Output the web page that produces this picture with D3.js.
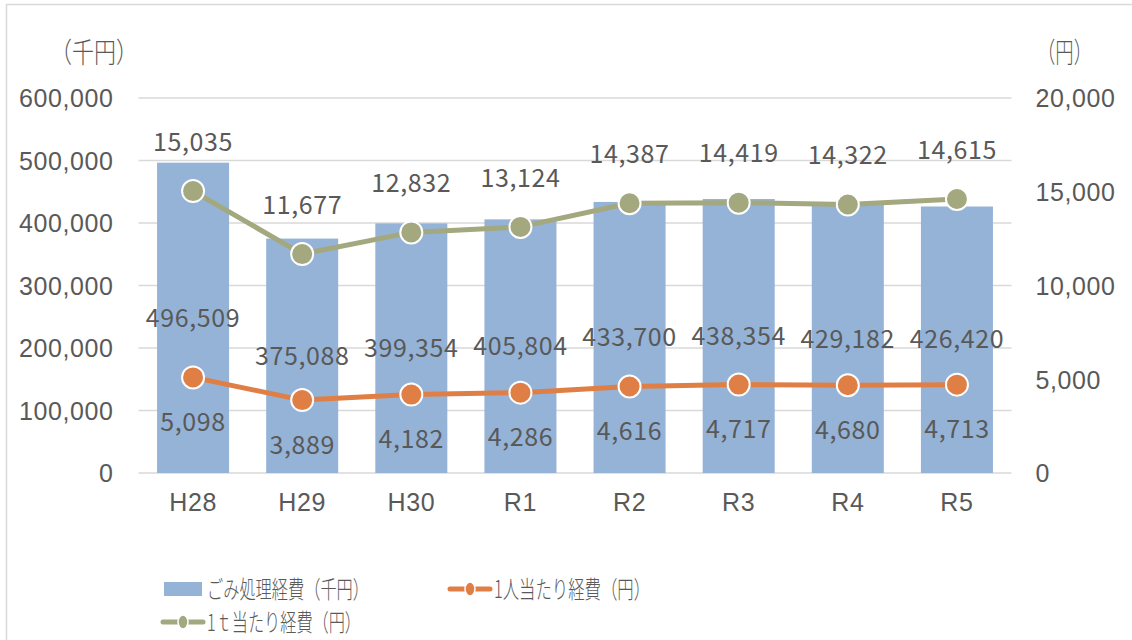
<!DOCTYPE html>
<html><head><meta charset="utf-8">
<script src="https://cdn.jsdelivr.net/npm/d3@7"></script>
<style>body{margin:0;background:#fff;}svg{display:block;font-family:"Noto Sans CJK JP","Noto Sans",sans-serif;}</style>
</head><body>
<svg id="c" width="1132" height="640"></svg>
<script>
const categories = ["H28","H29","H30","R1","R2","R3","R4","R5"];
const costTotal = [496509,375088,399354,405804,433700,438354,429182,426420];
const costPerPerson = [5098,3889,4182,4286,4616,4717,4680,4713];
const costPerTon = [15035,11677,12832,13124,14387,14419,14322,14615];
const leftTicks = [0,100000,200000,300000,400000,500000,600000];
const rightTicks = [0,5000,10000,15000,20000];
const seriesNames = ["ごみ処理経費（千円）","1人当たり経費（円）","1ｔ当たり経費（円）"];

const svg = d3.select("#c");
const txt = "#595959";
const fs = 25;
const ls = "0.6px";
const m = {l:138.5, r:1011.5, t:98, b:473};

svg.append("rect").attr("x",6.5).attr("y",4.5).attr("width",1140).attr("height",660)
  .attr("fill","none").attr("stroke","#d9d9d9").attr("stroke-width",1.5);

const x = d3.scaleBand().domain(categories).range([m.l,m.r]).paddingInner(0.34).paddingOuter(0.17);
const xc = d => x(d)+x.bandwidth()/2;
const yL = d3.scaleLinear().domain([0,600000]).range([m.b,m.t]);
const yR = d3.scaleLinear().domain([0,20000]).range([m.b,m.t]);
const fmt = d3.format(",");

// gridlines
svg.append("g").selectAll("line").data(leftTicks).join("line")
  .attr("x1",m.l).attr("x2",m.r).attr("y1",d=>yL(d)).attr("y2",d=>yL(d))
  .attr("stroke","#d9d9d9").attr("stroke-width",1.5);

function styleAxis(g){
  g.select(".domain").remove();
  g.selectAll("text").attr("fill",txt).style("font-size",fs+"px").style("font-family","inherit").style("letter-spacing",ls);
}
// left axis
const gl = svg.append("g").attr("transform",`translate(${m.l-25},0)`)
  .call(d3.axisLeft(yL).tickValues(leftTicks).tickFormat(fmt).tickSize(0).tickPadding(0));
styleAxis(gl); gl.selectAll("text").attr("dy","0.35em");

// right axis
const gr = svg.append("g").attr("transform",`translate(${m.r+24},0)`)
  .call(d3.axisRight(yR).tickValues(rightTicks).tickFormat(fmt).tickSize(0).tickPadding(0));
styleAxis(gr); gr.selectAll("text").attr("dy","0.35em");

// x axis
const gx = svg.append("g").attr("transform",`translate(0,${m.b})`)
  .call(d3.axisBottom(x).tickSize(0).tickPadding(20));
styleAxis(gx);

// axis units
svg.append("text").attr("x",50).attr("y",63).attr("fill",txt).style("font-size","28px").style("font-weight",300)
  .attr("textLength",88).attr("lengthAdjust","spacingAndGlyphs").text("（千円）");
svg.append("text").attr("x",1037).attr("y",63).attr("fill",txt).style("font-size","28px").style("font-weight",300)
  .attr("textLength",55).attr("lengthAdjust","spacingAndGlyphs").text("（円）");

// bars
svg.append("g").selectAll("rect").data(costTotal).join("rect")
  .attr("x",(d,i)=>x(categories[i])).attr("width",x.bandwidth())
  .attr("y",d=>yL(d)).attr("height",d=>m.b-yL(d)).attr("fill","#95B3D7");

const orange = "#E07F45", green = "#A3A87E";
function drawLine(vals,color){
  const line = d3.line().x((d,i)=>xc(categories[i])).y(d=>yR(d));
  svg.append("path").datum(vals).attr("d",line).attr("fill","none").attr("stroke",color)
    .attr("stroke-width",5).attr("stroke-linejoin","round");
  svg.append("g").selectAll("circle").data(vals).join("circle")
    .attr("cx",(d,i)=>xc(categories[i])).attr("cy",d=>yR(d)).attr("r",11)
    .attr("fill",color).attr("stroke","#fff").attr("stroke-width",2);
}
drawLine(costPerPerson,orange);
drawLine(costPerTon,green);

// labels
const lab = svg.append("g").attr("fill",txt).style("font-size",fs+"px").style("letter-spacing",ls).attr("text-anchor","middle");
lab.selectAll(".bl").data(costTotal).join("text")
  .attr("x",(d,i)=>xc(categories[i])).attr("y",d=>(yL(d)+m.b)/2).attr("dy","0.35em").text(fmt);
lab.selectAll(".pl").data(costPerPerson).join("text")
  .attr("x",(d,i)=>xc(categories[i])).attr("y",d=>yR(d)+45).attr("dy","0.35em").text(fmt);
lab.selectAll(".tl").data(costPerTon).join("text")
  .attr("x",(d,i)=>xc(categories[i])).attr("y",d=>yR(d)-49).attr("dy","0.35em").text(fmt);

// legend
const lg = svg.append("g").attr("fill",txt).style("font-size","24px").style("font-weight",300);
lg.append("rect").attr("x",164).attr("y",582).attr("width",38).attr("height",14).attr("fill","#95B3D7");
lg.append("text").attr("x",207).attr("y",589).attr("dy","0.36em")
  .attr("textLength",162).attr("lengthAdjust","spacingAndGlyphs").text(seriesNames[0]);
function legLine(x0,y0,color,label,len){
  lg.append("line").attr("x1",x0).attr("x2",x0+40).attr("y1",y0).attr("y2",y0).attr("stroke",color).attr("stroke-width",5).attr("stroke-linecap","round");
  lg.append("ellipse").attr("cx",x0+20).attr("cy",y0).attr("rx",5).attr("ry",7).attr("fill",color).attr("stroke","#fff").attr("stroke-width",1.5);
  lg.append("text").attr("x",x0+44).attr("y",y0).attr("dy","0.36em")
    .attr("textLength",len).attr("lengthAdjust","spacingAndGlyphs").text(label);
}
legLine(450,589,orange,seriesNames[1],156);
legLine(163,622,green,seriesNames[2],154);
</script>
</body></html>
